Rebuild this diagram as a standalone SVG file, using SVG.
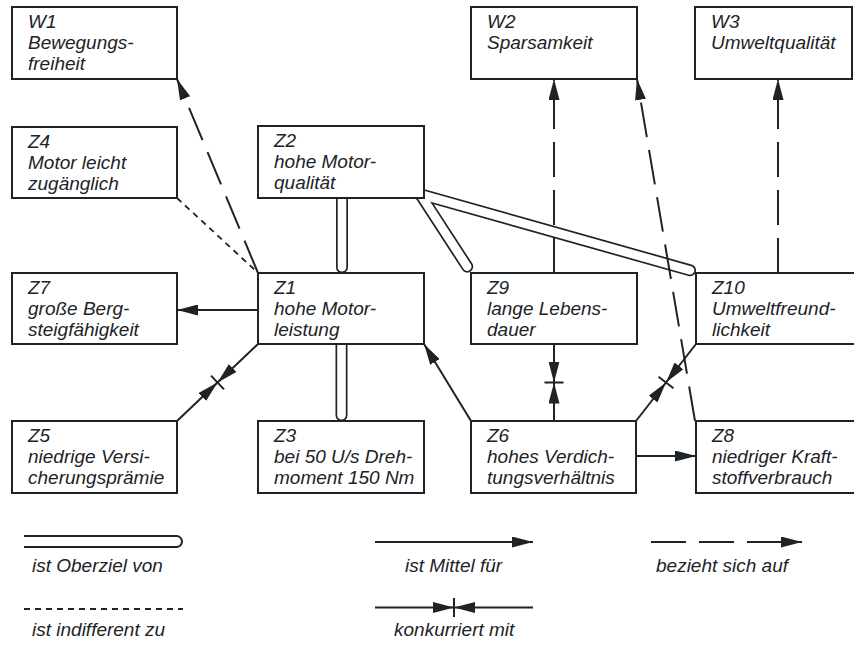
<svg xmlns="http://www.w3.org/2000/svg" xmlns:xlink="http://www.w3.org/1999/xlink" width="854" height="646" viewBox="0 0 854 646">
  <style>
    .box { fill: #ffffff; stroke: #1d2327; stroke-width: 2; }
    .lbl { font-family: "Liberation Sans", Arial, sans-serif; font-style: italic; font-size: 19px; fill: #1d2327; }
    .ln { fill: none; stroke: #1d2327; stroke-width: 2; }
    .dash { stroke-dasharray: 35 13; }
    .dot { stroke-dasharray: 6 5; stroke-width: 1.8; }
    .tube-o { fill: none; stroke: #1d2327; stroke-width: 12; stroke-linecap: round; }
    .tube-i { fill: none; stroke: #ffffff; stroke-width: 8.6; stroke-linecap: round; }
  </style>
  <defs>
    <marker id="arr" viewBox="0 0 21 11" refX="21" refY="5.5" markerWidth="21" markerHeight="11" markerUnits="userSpaceOnUse" orient="auto">
      <path d="M0,0 L21,5.5 L0,11 z" fill="#1d2327"/>
    </marker>
    <!-- "ist Oberziel von" tubes: drawn as a wide dark stroke with a white core -->
    <path id="t-z2-z1" d="M342,190 L342,267.2"/>
    <path id="t-z1-z3" d="M341.5,330 L341.5,415.2"/>
    <path id="t-z2-z9" d="M410.1,178.7 L467.2,266.6"/>
    <path id="t-z2-z10" d="M403.3,189.5 L690,270.3"/>
  </defs>

  <g id="connectors">
    <g id="tubes">
      <use href="#t-z2-z1" class="tube-o"/>
      <use href="#t-z1-z3" class="tube-o"/>
      <use href="#t-z2-z9" class="tube-o"/>
      <use href="#t-z2-z10" class="tube-o"/>
      <use href="#t-z2-z1" class="tube-i"/>
      <use href="#t-z1-z3" class="tube-i"/>
      <use href="#t-z2-z9" class="tube-i"/>
      <use href="#t-z2-z10" class="tube-i"/>
    </g>
    <!-- bezieht sich auf -->
    <path class="ln dash" d="M258,273 L177,79" marker-end="url(#arr)"/>
    <path class="ln dash" d="M554,273 L554,79" marker-end="url(#arr)"/>
    <path class="ln dash" d="M695,421 L637,79" marker-end="url(#arr)"/>
    <path class="ln dash" d="M778,273 L778,79" marker-end="url(#arr)"/>
    <!-- ist indifferent zu -->
    <path class="ln dot" d="M177,198 L256,271"/>
    <!-- ist Mittel fuer -->
    <path class="ln" d="M258,310 L177,310" marker-end="url(#arr)"/>
    <path class="ln" d="M471,421 L424,344" marker-end="url(#arr)"/>
    <path class="ln" d="M636,456 L696,456" marker-end="url(#arr)"/>
    <!-- konkurriert mit -->
    <path class="ln" d="M258,344 L217.5,382.5" marker-end="url(#arr)"/>
    <path class="ln" d="M177,421 L217.5,382.5" marker-end="url(#arr)"/>
    <path class="ln" d="M211,375.6 L224,389.4"/>
    <path class="ln" d="M554,344 L554,382.5" marker-end="url(#arr)"/>
    <path class="ln" d="M554,421 L554,382.5" marker-end="url(#arr)"/>
    <path class="ln" d="M544.5,382.5 L563.5,382.5"/>
    <path class="ln" d="M696,344 L666,382.5" marker-end="url(#arr)"/>
    <path class="ln" d="M636,421 L666,382.5" marker-end="url(#arr)"/>
    <path class="ln" d="M658.5,376.7 L673.5,388.3"/>
  </g>

  <g id="W1"><rect class="box" x="12" y="7" width="165" height="72"/>
    <text class="lbl" x="28" y="28">W1</text><text class="lbl" x="28" y="49">Bewegungs-</text><text class="lbl" x="28" y="70">freiheit</text></g>
  <g id="W2"><rect class="box" x="471" y="7" width="166" height="72"/>
    <text class="lbl" x="487" y="28">W2</text><text class="lbl" x="487" y="49">Sparsamkeit</text></g>
  <g id="W3"><rect class="box" x="695" y="7" width="157" height="72"/>
    <text class="lbl" x="711" y="28">W3</text><text class="lbl" x="711" y="49">Umweltqualität</text></g>
  <g id="Z4"><rect class="box" x="12" y="127" width="165" height="71"/>
    <text class="lbl" x="28" y="148">Z4</text><text class="lbl" x="28" y="169">Motor leicht</text><text class="lbl" x="28" y="190">zugänglich</text></g>
  <g id="Z2"><rect class="box" x="258" y="126" width="166" height="72"/>
    <text class="lbl" x="274" y="147">Z2</text><text class="lbl" x="274" y="168">hohe Motor-</text><text class="lbl" x="274" y="189">qualität</text></g>
  <g id="Z7"><rect class="box" x="12" y="273" width="165" height="71"/>
    <text class="lbl" x="28" y="294">Z7</text><text class="lbl" x="28" y="315">große Berg-</text><text class="lbl" x="28" y="336">steigfähigkeit</text></g>
  <g id="Z1"><rect class="box" x="258" y="273" width="166" height="71"/>
    <text class="lbl" x="274" y="294">Z1</text><text class="lbl" x="274" y="315">hohe Motor-</text><text class="lbl" x="274" y="336">leistung</text></g>
  <g id="Z9"><rect class="box" x="471" y="273" width="166" height="71"/>
    <text class="lbl" x="487" y="294">Z9</text><text class="lbl" x="487" y="315">lange Lebens-</text><text class="lbl" x="487" y="336">dauer</text></g>
  <g id="Z10"><rect class="box" x="696" y="273" width="170" height="71"/>
    <text class="lbl" x="712" y="294">Z10</text><text class="lbl" x="712" y="315">Umweltfreund-</text><text class="lbl" x="712" y="336">lichkeit</text></g>
  <g id="Z5"><rect class="box" x="12" y="421" width="165" height="72"/>
    <text class="lbl" x="28" y="442">Z5</text><text class="lbl" x="28" y="463">niedrige Versi-</text><text class="lbl" x="28" y="484">cherungsprämie</text></g>
  <g id="Z3"><rect class="box" x="258" y="421" width="166" height="72"/>
    <text class="lbl" x="274" y="442">Z3</text><text class="lbl" x="274" y="463">bei 50 U/s Dreh-</text><text class="lbl" x="274" y="484">moment 150 Nm</text></g>
  <g id="Z6"><rect class="box" x="471" y="421" width="165" height="72"/>
    <text class="lbl" x="487" y="442">Z6</text><text class="lbl" x="487" y="463">hohes Verdich-</text><text class="lbl" x="487" y="484">tungsverhältnis</text></g>
  <g id="Z8"><rect class="box" x="696" y="421" width="170" height="72"/>
    <text class="lbl" x="712" y="442">Z8</text><text class="lbl" x="712" y="463">niedriger Kraft-</text><text class="lbl" x="712" y="484">stoffverbrauch</text></g>

  <g id="legend">
    <path class="ln" d="M24,536 H176.5 A5.5,5.5 0 0 1 176.5,547 H24"/>
    <text class="lbl" x="32" y="572">ist Oberziel von</text>
    <path class="ln dot" d="M24,609 L183,609"/>
    <text class="lbl" x="32" y="636">ist indifferent zu</text>
    <path class="ln" d="M375,542 L533,542" marker-end="url(#arr)"/>
    <text class="lbl" x="405" y="572">ist Mittel für</text>
    <path class="ln" d="M375,607.5 L454,607.5" marker-end="url(#arr)"/>
    <path class="ln" d="M533,607.5 L454,607.5" marker-end="url(#arr)"/>
    <path class="ln" d="M454,598 L454,617"/>
    <text class="lbl" x="394" y="636">konkurriert mit</text>
    <path class="ln dash" d="M651,542 L802,542" marker-end="url(#arr)"/>
    <text class="lbl" x="656" y="572">bezieht sich auf</text>
  </g>
</svg>
